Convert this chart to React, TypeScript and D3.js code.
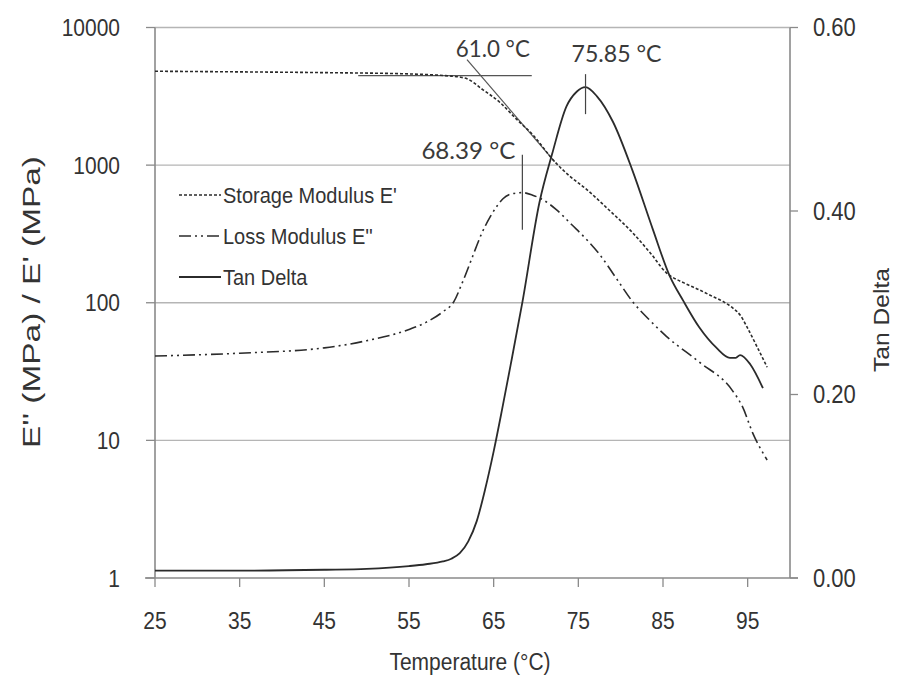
import React from "react";
import * as d3 from "d3";

// Axis ticks
const xTicks = [25, 35, 45, 55, 65, 75, 85, 95];
const modulusTicks = [1, 10, 100, 1000, 10000];
const tanTicks = [0, 0.2, 0.4, 0.6];
const tanTickLabels = ["0.00", "0.20", "0.40", "0.60"];

// Storage modulus E' (MPa) vs temperature (°C)
const storageTemp = [25, 35, 45, 55, 58, 60, 61, 61.85, 63.7, 65.75, 67.75, 69.6, 72.2, 74, 76, 78.5, 81.4, 83.5, 85.4, 87.4, 89.3, 91, 92.1, 93.2, 94.2, 94.9, 96.1, 97.3];
const storageMPa = [4810, 4760, 4700, 4600, 4520, 4430, 4360, 4240, 3540, 2850, 2140, 1667, 1060, 830, 664, 480, 323, 230, 165, 140, 124, 110, 102, 92, 80, 67, 48, 34];

// Loss modulus E'' (MPa)
const lossTemp = [25, 35, 45, 50, 55, 57, 59, 60.3, 61.3, 62.5, 63.5, 64.6, 65.4, 66.1, 67.2, 68.39, 69.6, 70.8, 72.4, 74.2, 76, 77.5, 79.5, 81.4, 83.4, 85.4, 89.3, 93.2, 94.4, 95.6, 97.3];
const lossMPa = [41, 43, 47, 53, 64, 72, 86, 102, 140, 216, 310, 422, 505, 570, 620, 631, 605, 561, 475, 370, 287, 225, 150, 102, 75, 57, 37, 23, 17.5, 11.3, 7.2];

// Tan delta
const tanTemp = [25, 35, 45, 50, 55, 57, 59, 60, 61, 62, 63, 64, 65, 66, 67, 68.4, 70.4, 71.9, 73.6, 74.8, 75.85, 77.2, 79.1, 81.4, 83.8, 85.8, 87.4, 89.3, 91.3, 92.9, 93.6, 94.1, 95.3, 96.8];
const tanDelta = [0.008, 0.008, 0.009, 0.01, 0.013, 0.015, 0.018, 0.021, 0.027, 0.04, 0.062, 0.097, 0.138, 0.184, 0.232, 0.301, 0.409, 0.462, 0.514, 0.53, 0.535, 0.525, 0.497, 0.444, 0.38, 0.329, 0.302, 0.273, 0.251, 0.24, 0.24, 0.243, 0.233, 0.207];

// Onset construction lines on the storage curve (temperature, MPa)
const onsetBaseline: [number, number][] = [[49, 4477], [69.5, 4477]];
const onsetTangent: [number, number][] = [[61.85, 5850], [72.2, 1060]];

// Marked transition temperatures
const onsetTemp = 61.0;
const lossPeakTemp = 68.39;
const tanPeakTemp = 75.85;

const legendItems = [
  { label: "Storage Modulus E'", dash: "3,2", width: 1.6 },
  { label: "Loss Modulus E''", dash: "12,4,2,4,2,4", width: 1.6 },
  { label: "Tan Delta", dash: "", width: 1.8 },
];

const FONT = "'Liberation Sans', Arial, sans-serif";
const NOTE_FONT = "Lato, 'Open Sans', sans-serif";

// Horizontal label, slightly tall-drawn like the rest of the figure text
function Label(props: {
  x: number;
  y: number;
  anchor?: "start" | "middle" | "end";
  size?: number;
  family?: string;
  len?: number;
  fill?: string;
  children: React.ReactNode;
}) {
  const { x, y, anchor = "start", size = 21, family = FONT, len, fill = "#333", children } = props;
  return (
    <text
      transform={`translate(${x},${y}) scale(1,1.14)`}
      textAnchor={anchor}
      fontFamily={family}
      fontSize={size}
      fill={fill}
      textLength={len}
      lengthAdjust={len ? "spacingAndGlyphs" : undefined}
    >
      {children}
    </text>
  );
}

export default function App() {
  const left = 155, right = 790, top = 27.5, bottom = 578;
  const x = d3.scaleLinear().domain([25, 100]).range([left, right]);
  const yL = d3.scaleLog().domain([1, 10000]).range([bottom, top]);
  const yR = d3.scaleLinear().domain([0, 0.6]).range([bottom, top]);

  const lineL = d3
    .line<[number, number]>()
    .x((d) => x(d[0]))
    .y((d) => yL(d[1]))
    .curve(d3.curveMonotoneX);
  const lineR = d3
    .line<[number, number]>()
    .x((d) => x(d[0]))
    .y((d) => yR(d[1]))
    .curve(d3.curveMonotoneX);
  const straightL = d3
    .line<[number, number]>()
    .x((d) => x(d[0]))
    .y((d) => yL(d[1]));

  const storage = storageTemp.map((t, i) => [t, storageMPa[i]] as [number, number]);
  const loss = lossTemp.map((t, i) => [t, lossMPa[i]] as [number, number]);
  const tan = tanTemp.map((t, i) => [t, tanDelta[i]] as [number, number]);

  const ink = "#2b2b2b";
  const axisCol = "#8a8a8a";
  const gridCol = "#b5b5b5";

  const lossPeakVal = lossMPa[lossTemp.indexOf(lossPeakTemp)];
  const tanPeakVal = tanDelta[tanTemp.indexOf(tanPeakTemp)];

  return (
    <svg
      width={907}
      height={690}
      style={{ position: "absolute", left: 0, top: 0, background: "#fff" }}
    >
      {/* grid */}
      {modulusTicks.slice(1).map((v) => (
        <line key={v} x1={left} x2={right} y1={yL(v)} y2={yL(v)} stroke={gridCol} strokeWidth={1.3} />
      ))}

      {/* axes */}
      <line x1={left} x2={left} y1={top} y2={bottom} stroke={axisCol} strokeWidth={1.6} />
      <line x1={right} x2={right} y1={top} y2={bottom} stroke={axisCol} strokeWidth={1.6} />
      <line x1={left - 10} x2={right + 8} y1={bottom} y2={bottom} stroke={axisCol} strokeWidth={1.6} />

      {modulusTicks.map((v) => (
        <g key={v}>
          <line x1={left - 9} x2={left} y1={yL(v)} y2={yL(v)} stroke={axisCol} strokeWidth={1.3} />
          <Label x={120} y={yL(v) + 8.5} anchor="end">
            {v}
          </Label>
        </g>
      ))}
      {tanTicks.map((v, i) => (
        <g key={v}>
          <line x1={right} x2={right + 8} y1={yR(v)} y2={yR(v)} stroke={axisCol} strokeWidth={1.3} />
          <Label x={813} y={yR(v) + 8.5} anchor="start" size={22}>
            {tanTickLabels[i]}
          </Label>
        </g>
      ))}
      {xTicks.map((v) => (
        <g key={v}>
          <line x1={x(v)} x2={x(v)} y1={bottom} y2={bottom + 9} stroke={axisCol} strokeWidth={1.3} />
          <Label x={x(v)} y={629} anchor="middle">
            {v}
          </Label>
        </g>
      ))}

      {/* axis titles */}
      <Label x={470} y={670} anchor="middle">
        Temperature (°C)
      </Label>
      <text
        transform={`translate(40,302) rotate(-90)`}
        textAnchor="middle"
        fontFamily={FONT}
        fontSize={23}
        fill="#333"
        textLength={292}
        lengthAdjust="spacingAndGlyphs"
      >
        E'' (MPa) / E' (MPa)
      </text>
      <text
        transform={`translate(889,320) rotate(-90)`}
        textAnchor="middle"
        fontFamily={FONT}
        fontSize={22}
        fill="#333"
        textLength={104}
        lengthAdjust="spacingAndGlyphs"
      >
        Tan Delta
      </text>

      {/* onset construction */}
      <path d={straightL(onsetBaseline) ?? ""} fill="none" stroke="#555" strokeWidth={1.2} />
      <path d={straightL(onsetTangent) ?? ""} fill="none" stroke="#555" strokeWidth={1.2} />

      {/* curves */}
      <path d={lineL(storage) ?? ""} fill="none" stroke={ink} strokeWidth={1.6} strokeDasharray="3,2" />
      <path d={lineL(loss) ?? ""} fill="none" stroke={ink} strokeWidth={1.6} strokeDasharray="12,4,2,4,2,4" />
      <path d={lineR(tan) ?? ""} fill="none" stroke={ink} strokeWidth={1.8} />

      {/* peak markers */}
      <line x1={x(tanPeakTemp)} x2={x(tanPeakTemp)} y1={yR(tanPeakVal) - 13} y2={yR(tanPeakVal) + 27} stroke="#444" strokeWidth={1.2} />
      <line x1={x(lossPeakTemp)} x2={x(lossPeakTemp)} y1={yL(lossPeakVal) - 38} y2={yL(lossPeakVal) + 37} stroke="#444" strokeWidth={1.2} />

      {/* annotations */}
      <Label x={x(onsetTemp) + 33} y={57} anchor="middle" family={NOTE_FONT} size={21} len={74} fill="#3a3a3a">
        {onsetTemp.toFixed(1)} °C
      </Label>
      <Label x={x(tanPeakTemp) + 31} y={62} anchor="middle" family={NOTE_FONT} size={21} len={90} fill="#3a3a3a">
        {tanPeakTemp.toFixed(2)} °C
      </Label>
      <Label x={x(lossPeakTemp) - 54} y={159} anchor="middle" family={NOTE_FONT} size={21} len={94} fill="#3a3a3a">
        {lossPeakTemp.toFixed(2)} °C
      </Label>

      {/* legend */}
      {legendItems.map((it, i) => {
        const cy = 195 + i * 41;
        return (
          <g key={it.label}>
            <line x1={179} x2={221} y1={cy} y2={cy} stroke={ink} strokeWidth={it.width} strokeDasharray={it.dash || undefined} />
            <Label x={223} y={cy + 8} size={20}>
              {it.label}
            </Label>
          </g>
        );
      })}
    </svg>
  );
}
